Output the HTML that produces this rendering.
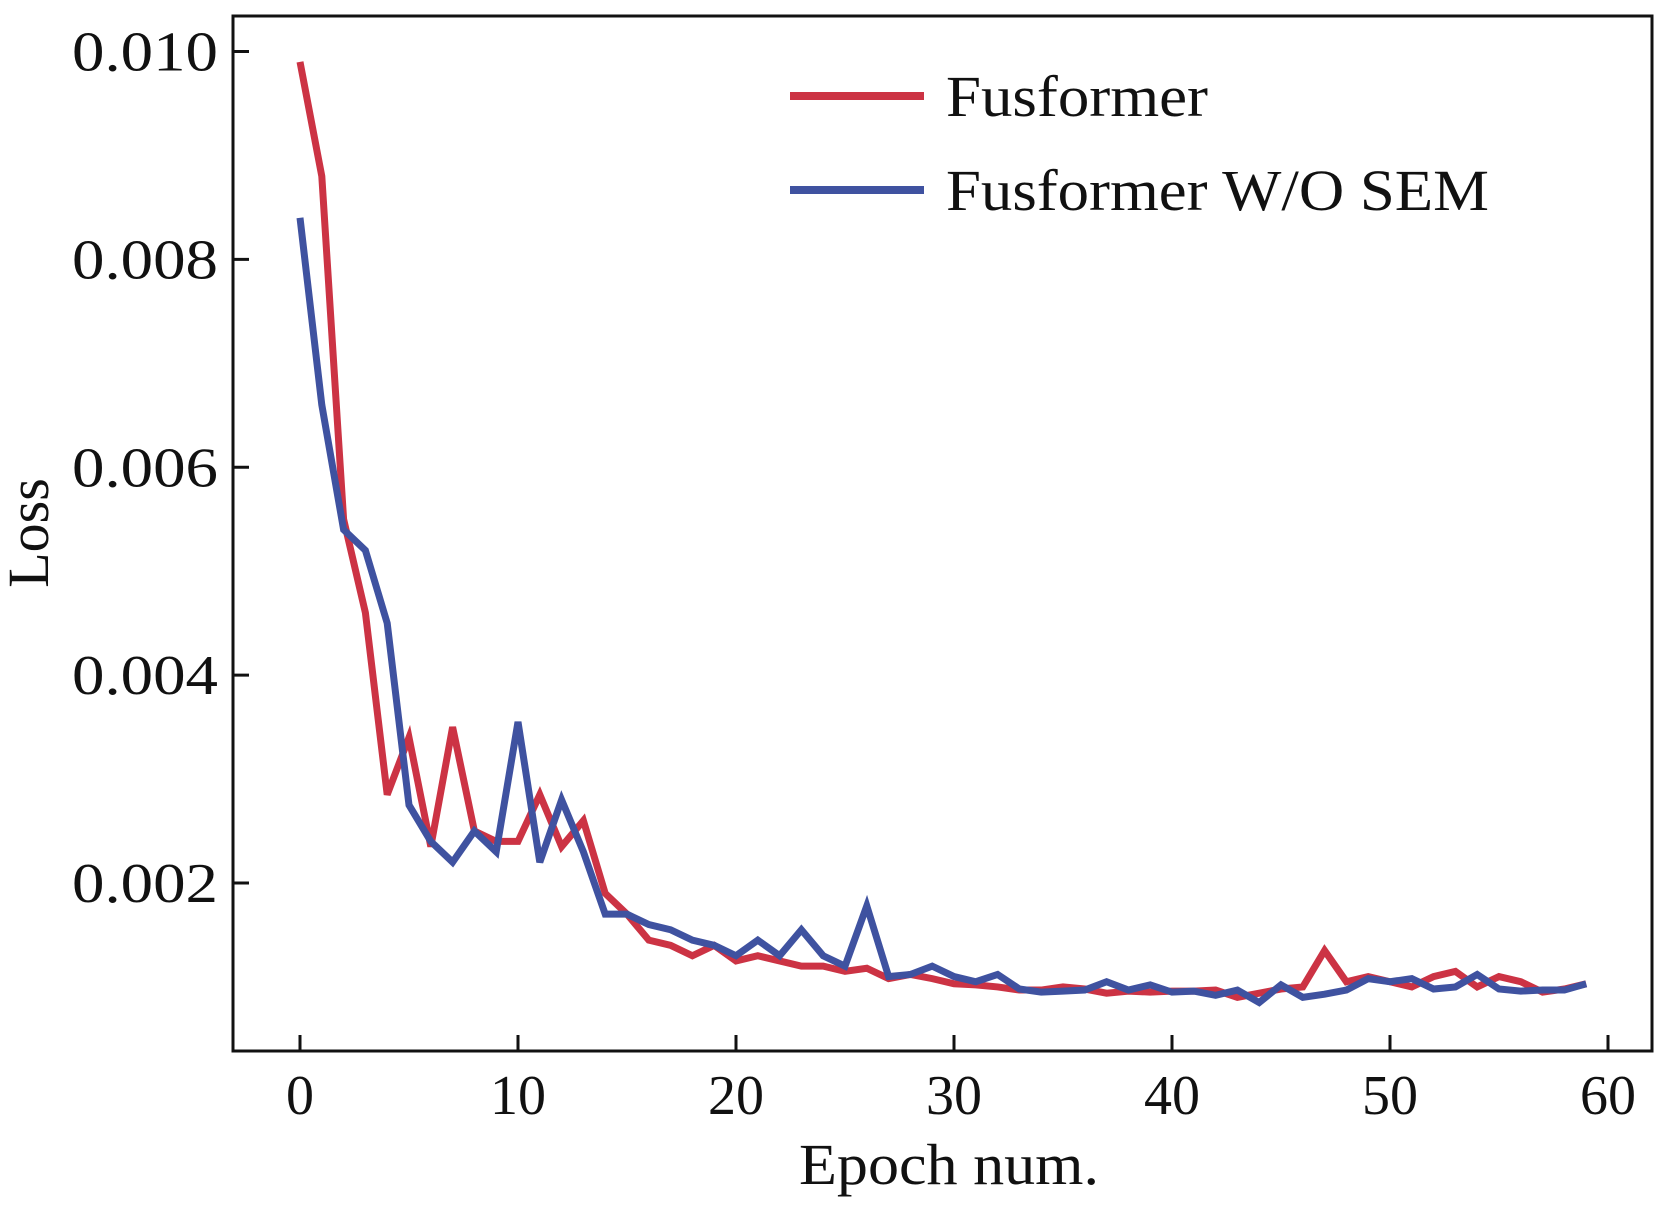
<!DOCTYPE html>
<html><head><meta charset="utf-8"><style>
html,body{margin:0;padding:0;background:#fff}
svg text{font-family:"Liberation Serif",serif;fill:#111}
</style></head><body>
<svg id="chart" width="1672" height="1212" xmlns="http://www.w3.org/2000/svg">
<g id="series"></g>
<rect x="233" y="16" width="1419" height="1035" fill="none" stroke="#111" stroke-width="3"/>
<g id="axes"></g>
<g>
<line x1="790" y1="96" x2="924" y2="96" stroke="#cc3344" stroke-width="8"/>
<text x="946" y="116" font-size="58" textLength="262" lengthAdjust="spacingAndGlyphs">Fusformer</text>
<line x1="790" y1="190" x2="924" y2="190" stroke="#3f52a0" stroke-width="8"/>
<text x="946" y="210" font-size="58" textLength="543" lengthAdjust="spacingAndGlyphs">Fusformer W/O SEM</text>
</g>
<text transform="translate(48,533) rotate(-90)" text-anchor="middle" font-size="58">Loss</text>
<text x="949" y="1184" text-anchor="middle" font-size="58" textLength="300" lengthAdjust="spacingAndGlyphs">Epoch num.</text>
</svg>
<script>
const xTicks=[0,10,20,30,40,50,60];
const yTicks=[0.002,0.004,0.006,0.008,0.010];
const yTickLabels=["0.002","0.004","0.006","0.008","0.010"];
const fusformer=[0.0099,0.0088,0.0055,0.0046,0.00285,0.0034,0.00235,0.0035,0.0025,0.0024,0.0024,0.00285,0.00235,0.0026,0.0019,0.0017,0.00145,0.0014,0.0013,0.0014,0.00125,0.0013,0.00125,0.0012,0.0012,0.00115,0.00118,0.00108,0.00112,0.00108,0.00103,0.00102,0.001,0.00097,0.00097,0.001,0.00098,0.00094,0.00096,0.00095,0.00096,0.00096,0.00097,0.0009,0.00094,0.00098,0.001,0.00135,0.00105,0.0011,0.00105,0.001,0.0011,0.00115,0.001,0.0011,0.00105,0.00095,0.00098,0.00103];
const woSem=[0.0084,0.0066,0.0054,0.0052,0.0045,0.00275,0.0024,0.0022,0.0025,0.0023,0.00355,0.0022,0.0028,0.0023,0.0017,0.0017,0.0016,0.00155,0.00145,0.0014,0.0013,0.00145,0.0013,0.00155,0.0013,0.0012,0.00178,0.0011,0.00112,0.0012,0.0011,0.00105,0.00112,0.00098,0.00095,0.00096,0.00097,0.00105,0.00097,0.00102,0.00095,0.00096,0.00092,0.00097,0.00085,0.00102,0.0009,0.00093,0.00097,0.00108,0.00105,0.00108,0.00098,0.001,0.00112,0.00098,0.00096,0.00097,0.00097,0.00103];
const NS="http://www.w3.org/2000/svg";
const xs=v=>300+v*(1608-300)/60;
const ys=v=>51.5+(0.010-v)*(883-51.5)/0.008;
const axes=document.getElementById('axes');
const series=document.getElementById('series');
xTicks.forEach(t=>{
 const l=document.createElementNS(NS,'line');
 
 
 l.setAttribute('x1',xs(t));l.setAttribute('x2',xs(t));l.setAttribute('y1',1051);l.setAttribute('y2',1035);
 l.setAttribute('stroke','#111');l.setAttribute('stroke-width','3');axes.appendChild(l);
 const tx=document.createElementNS(NS,'text');
 
 
 tx.setAttribute('x',xs(t));tx.setAttribute('y',1114);tx.setAttribute('text-anchor','middle');tx.setAttribute('font-size','56');
 tx.textContent=String(t);axes.appendChild(tx);
});
yTicks.forEach((t,i)=>{
 const l=document.createElementNS(NS,'line');
 
 
 l.setAttribute('x1',233);l.setAttribute('x2',249);l.setAttribute('y1',ys(t));l.setAttribute('y2',ys(t));
 l.setAttribute('stroke','#111');l.setAttribute('stroke-width','3');axes.appendChild(l);
 const tx=document.createElementNS(NS,'text');
 
 
 tx.setAttribute('x',218);tx.setAttribute('y',ys(t)+19);tx.setAttribute('text-anchor','end');tx.setAttribute('font-size','56');
 tx.setAttribute('textLength','146');tx.setAttribute('lengthAdjust','spacingAndGlyphs');
 tx.textContent=yTickLabels[i];axes.appendChild(tx);
});
function drawLine(data,color,name){
 const p=document.createElementNS(NS,'polyline');
 
 
 p.setAttribute('points',data.map((v,i)=>xs(i)+','+ys(v)).join(' '));
 p.setAttribute('fill','none');p.setAttribute('stroke',color);p.setAttribute('stroke-width','7');p.setAttribute('stroke-linejoin','miter');
 series.appendChild(p);
}
drawLine(fusformer,'#cc3344','fusformer-line');
drawLine(woSem,'#3f52a0','fusformer-wo-sem-line');
</script>
</body></html>
